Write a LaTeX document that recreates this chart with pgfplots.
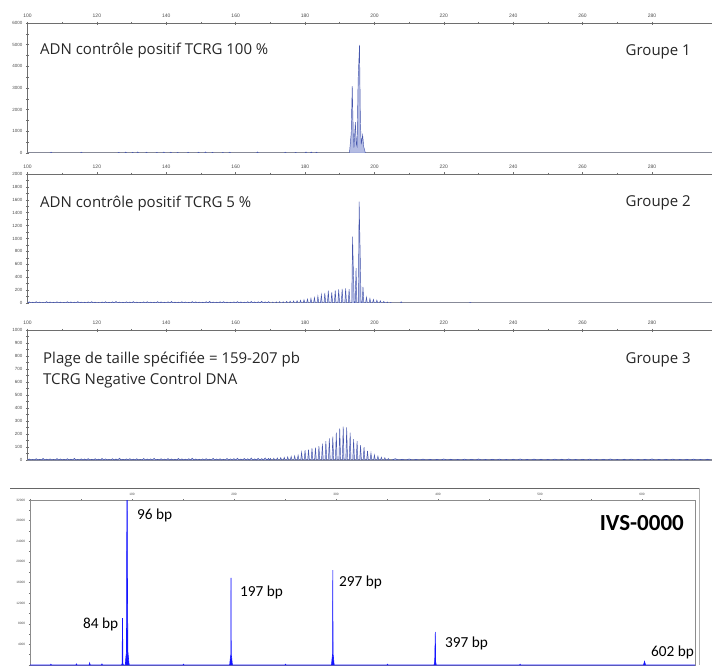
\documentclass[border=0pt]{standalone}
\usepackage{pgfplots}
\pgfplotsset{compat=1.18}
\usepackage{fontspec}
\setmainfont{Open Sans}
\newfontfamily\calib{Carlito}
\newfontfamily\arial{Liberation Sans}
\definecolor{tdark}{HTML}{4555AC}
\definecolor{tlight}{HTML}{B4BCE3}
\definecolor{bdark}{HTML}{1414FF}
\definecolor{blight}{HTML}{8C8CFF}
\definecolor{axgray}{HTML}{6E6E6E}
\begin{document}
\begin{tikzpicture}[x=1pt,y=1pt]
\useasboundingbox (0,0) rectangle (712,665);
\pgfplotsset{
  panel/.style={
    scale only axis, width=684.5pt, height=130pt,
    xmin=100, xmax=297.3, ymin=0,
    axis x line*=top, axis y line*=left,
    axis line style={-, draw=axgray, line width=0.6pt},
    xtick={100,120,...,280}, minor x tick num=1,
    tick align=center,
    major tick length=3pt, minor tick length=2.5pt,
    every tick/.style={draw=axgray, line width=0.5pt},
    xticklabel style={font=\arial\fontsize{5}{5}\selectfont, text=black!70},
    yticklabel style={font=\arial\fontsize{4.5}{5}\selectfont, text=black!70},
    scaled y ticks=false,
    /pgf/number format/assume math mode=true,
    /pgf/number format/1000 sep={},
  },
  trace/.style={draw=tdark, fill=tlight, line width=0.45pt},
}
% ---------------- Panel 1 ----------------
\begin{axis}[panel, at={(27.5pt,512pt)}, anchor=south west, height=130pt,
  ymax=6000, ytick={0,1000,...,6000}, minor y tick num=1]
\draw[black!45, line width=1.2pt] (rel axis cs:0,0) -- (rel axis cs:1,0);
\addplot[trace] coordinates {
(100,0)(106.5,0)(106.8,40)(107.1,0)(115.2,0)(115.5,35)(115.8,0)
(126,0)(126.3,30)(126.6,0)(128,0)(128.3,45)(128.6,0)(130,0)(130.3,35)(130.6,0)
(131.5,0)(131.8,50)(132.1,0)(134,0)(134.3,40)(134.6,0)(137,0)(137.3,30)(137.6,0)
(139,0)(139.3,45)(139.6,0)(141,0)(141.3,40)(141.6,0)(143,0)(143.3,30)(143.6,0)
(146,0)(146.3,35)(146.6,0)(149,0)(149.3,40)(149.6,0)(151,0)(151.3,50)(151.6,0)
(153,0)(153.3,35)(153.6,0)(156,0)(156.3,30)(156.6,0)(158,0)(158.3,40)(158.6,0)
(166,0)(166.3,45)(166.6,0)(174,0)(174.3,35)(174.6,0)(177,0)(177.3,30)(177.6,0)
(180,0)(180.3,50)(180.6,0)(181.5,0)(181.8,45)(182.1,0)(183,0)(183.3,40)(183.6,0)
(192.8,0)(193.3,900)(193.6,3090)(193.9,900)(194.1,250)(194.5,1430)(194.8,400)
(195.0,300)(195.3,3400)(195.7,4985)(195.95,1500)(196.2,400)(196.6,830)(196.9,300)(197.4,0)
(297.3,0)
} \closedcycle;
\end{axis}
% ---------------- Panel 2 ----------------
\begin{axis}[panel, at={(27.5pt,362pt)}, anchor=south west, height=129pt,
  ymax=2000, ytick={0,200,...,2000}, minor y tick num=1]
\draw[black!45, line width=1.2pt] (rel axis cs:0,0) -- (rel axis cs:1,0);
\addplot[trace] coordinates {
(100,0)(100.5,18)(101,0)(101.5,12)(102,0)(102.5,20)(103,0)(103.5,15)(104,0)(104.5,10)
(105,0)(105.5,22)(106,0)(106.5,16)(107,0)(107.5,12)(108,0)(108.5,19)(109,0)(109.5,14)
(110,0)(110.5,11)(111,0)(111.5,20)(112,0)(112.5,17)(113,0)(113.5,13)(114,0)(114.5,22)
(115,0)(115.5,15)(116,0)(116.5,12)(117,0)(117.5,18)(118,0)(118.5,21)(119,0)(119.5,14)
(120,0)(120.5,10)(121,0)(121.5,16)(122,0)(122.5,20)(123,0)(123.5,13)(124,0)(124.5,18)
(125,0)(125.5,24)(126,0)(126.5,15)(127,0)(127.5,12)(128,0)(128.5,19)(129,0)(129.5,16)
(130,0)(130.5,22)(131,0)(131.5,14)(132,0)(132.5,11)(133,0)(133.5,18)(134,0)(134.5,20)
(135,0)(135.5,15)(136,0)(136.5,13)(137,0)(137.5,21)(138,0)(138.5,17)(139,0)(139.5,12)
(140,0)(140.5,19)(141,0)(141.5,23)(142,0)(142.5,15)(143,0)(143.5,14)(144,0)(144.5,20)
(145,0)(145.5,16)(146,0)(146.5,12)(147,0)(147.5,22)(148,0)(148.5,18)(149,0)(149.5,15)
(150,0)(150.5,13)(151,0)(151.5,20)(152,0)(152.5,24)(153,0)(153.5,16)(154,0)(154.5,14)
(155,0)(155.5,19)(156,0)(156.5,21)(157,0)(157.5,15)(158,0)(158.5,12)(159,0)(159.5,18)
(160,0)(160.5,22)(161,0)(161.5,17)(162,0)(162.5,14)(163,0)(163.5,20)(164,0)(164.5,23)
(165,0)(165.5,16)(166,0)(166.5,19)(167,0)(167.5,25)(168,0)(168.5,18)(169,0)(169.5,21)
(170,0)
(170.45,0)(170.7,15)(170.95,0)(171.45,0)(171.7,18)(171.95,0)(172.45,0)(172.7,22)(172.95,0)
(173.45,0)(173.7,20)(173.95,0)(174.45,0)(174.7,26)(174.95,0)(175.45,0)(175.7,28)(175.95,0)
(176.45,0)(176.7,32)(176.95,0)(177.45,0)(177.7,35)(177.95,0)(178.45,0)(178.7,42)(178.95,0)
(179.45,0)(179.7,50)(179.95,0)(180.45,0)(180.7,60)(180.95,0)(181.45,0)(181.7,72)(181.95,0)
(182.45,0)(182.7,85)(182.95,0)(183.45,0)(183.7,108)(183.95,0)(184.45,0)(184.7,130)(184.95,0)
(185.45,0)(185.7,155)(185.95,0)(186.45,0)(186.7,190)(186.95,0)(187.45,0)(187.7,165)(187.95,0)
(188.45,0)(188.7,195)(188.95,0)(189.45,0)(189.7,210)(189.95,0)(190.45,0)(190.7,220)(190.95,0)
(191.45,0)(191.7,228)(191.95,0)(192.45,0)(192.7,215)(192.95,0)
(193.45,0)(193.7,1030)(193.95,450)(194.2,0)(194.45,0)(194.7,540)(194.95,0)
(195.35,0)(195.6,1570)(195.9,750)(196.15,0)
(196.45,0)(196.7,250)(196.95,0)(197.45,0)(197.7,90)(197.95,0)(198.45,0)(198.7,70)(198.95,0)
(199.45,0)(199.7,55)(199.95,0)(200.45,0)(200.7,45)(200.95,0)(201.45,0)(201.7,35)(201.95,0)
(202.45,0)(202.7,25)(202.95,0)(203.45,0)(203.7,15)(203.95,0)(204.45,0)(204.7,10)(204.95,0)
(207.45,0)(207.7,20)(207.95,0)(227.3,0)(227.6,10)(227.9,0)
(297.3,0)
} \closedcycle;
\end{axis}
% ---------------- Panel 3 ----------------
\begin{axis}[panel, at={(27.5pt,205pt)}, anchor=south west, height=130pt,
  ymax=1000, ytick={0,100,...,1000}, minor y tick num=1]
\draw[black!45, line width=1.2pt] (rel axis cs:0,0) -- (rel axis cs:1,0);
\addplot[trace] coordinates {
(100,0)(100.5,8)(101,0)(101.5,5)(102,0)(102.5,10)(103,0)(103.5,6)(104,0)(104.5,12)
(105,0)(105.5,7)(106,0)(106.5,9)(107,0)(107.5,5)(108,0)(108.5,11)(109,0)(109.5,8)
(110,0)(110.5,6)(111,0)(111.5,10)(112,0)(112.5,7)(113,0)(113.5,13)(114,0)(114.5,5)
(115,0)(115.5,9)(116,0)(116.5,8)(117,0)(117.5,11)(118,0)(118.5,6)(119,0)(119.5,10)
(120,0)(120.5,7)(121,0)(121.5,12)(122,0)(122.5,9)(123,0)(123.5,5)(124,0)(124.5,10)
(125,0)(125.5,8)(126,0)(126.5,14)(127,0)(127.5,6)(128,0)(128.5,9)(129,0)(129.5,11)
(130,0)(130.5,7)(131,0)(131.5,10)(132,0)(132.5,5)(133,0)(133.5,12)(134,0)(134.5,8)
(135,0)(135.5,9)(136,0)(136.5,13)(137,0)(137.5,6)(138,0)(138.5,10)(139,0)(139.5,7)
(140,0)(140.5,11)(141,0)(141.5,8)(142,0)(142.5,6)(143,0)(143.5,12)(144,0)(144.5,9)
(145,0)(145.5,7)(146,0)(146.5,10)(147,0)(147.5,14)(148,0)(148.5,8)(149,0)(149.5,6)
(150,0)(150.5,9)(151,0)(151.5,11)(152,0)(152.5,7)(153,0)(153.5,13)(154,0)(154.5,8)
(155,0)(155.5,10)(156,0)(156.5,6)(157,0)(157.5,12)(158,0)(158.5,9)(159,0)(159.5,11)
(160,0)(160.5,14)(161,0)(161.5,8)(162,0)(162.5,12)(163,0)(163.5,10)(164,0)(164.5,15)
(165,0)(165.5,9)(166,0)(166.5,13)(167,0)(167.5,11)(168,0)(168.5,16)(169,0)(169.5,12)
(169.75,0)(170,12)(170.25,0)(170.75,0)(171,14)(171.25,0)(171.75,0)(172,16)(172.25,0)
(172.75,0)(173,18)(173.25,0)(173.75,0)(174,20)(174.25,0)(174.75,0)(175,24)(175.25,0)
(175.75,0)(176,28)(176.25,0)(176.75,0)(177,32)(177.25,0)(177.75,0)(178,38)(178.25,0)
(178.75,0)(179,60)(179.25,0)(179.75,0)(180,75)(180.25,0)(180.75,0)(181,80)(181.25,0)
(181.75,0)(182,90)(182.25,0)(182.75,0)(183,95)(183.25,0)(183.75,0)(184,107)(184.25,0)
(184.75,0)(185,125)(185.25,0)(185.75,0)(186,146)(186.25,0)(186.75,0)(187,167)(187.25,0)
(187.75,0)(188,180)(188.25,0)(188.75,0)(189,210)(189.25,0)(189.75,0)(190,243)(190.25,0)
(190.75,0)(191,257)(191.25,0)(191.75,0)(192,250)(192.25,0)(192.75,0)(193,210)(193.25,0)
(193.75,0)(194,160)(194.25,0)(194.75,0)(195,146)(195.25,0)(195.75,0)(196,115)(196.25,0)
(196.75,0)(197,98)(197.25,0)(197.75,0)(198,70)(198.25,0)(198.75,0)(199,55)(199.25,0)
(199.75,0)(200,40)(200.25,0)(200.75,0)(201,30)(201.25,0)(201.75,0)(202,22)(202.25,0)
(202.75,0)(203,18)(203.25,0)(203.75,0)(204,12)(204.25,0)
(205,0)(206,10)(207,0)(208,6)(209,0)(210,8)(211,0)(212,5)(213,0)(214,7)(215,0)(216,6)
(217,0)(218,5)(219,0)(220,8)(221,0)(222,6)(223,0)(224,5)(225,0)(226,7)(227,0)(228,6)
(229,0)(230,8)(231,0)(232,5)(233,0)(234,6)(235,0)(236,7)(237,0)(238,5)(239,0)(240,6)
(241,0)(242,8)(243,0)(244,5)(245,0)(246,7)(247,0)(248,6)(249,0)(250,5)(251,0)(252,7)
(253,0)(254,6)(255,0)(256,8)(257,0)(258,5)(259,0)(260,6)(261,0)(262,7)(263,0)(264,5)
(265,0)(266,6)(267,0)(268,8)(269,0)(270,5)(271,0)(272,6)(273,0)(274,7)(275,0)(276,5)
(277,0)(278,6)(279,0)(280,8)(281,0)(282,5)(283,0)(284,6)(285,0)(286,7)(287,0)(288,5)
(289,0)(290,6)(291,0)(292,7)(293,0)(294,5)(295,0)(296,6)(297,0)(297.3,0)
} \closedcycle;
\end{axis}
% ---------------- Panel 4 ----------------
\begin{axis}[scale only axis, width=665pt, height=165pt, at={(30pt,0pt)}, anchor=south west,
  xmin=0, xmax=652, ymin=0, ymax=32000,
  axis line style={draw=black!45, line width=0.5pt},
  xtick={0,100,...,600}, xticklabels={,100,200,300,400,500,600}, minor x tick num=1,
  ytick={0,4000,...,32000}, yticklabels={,4000,8000,12000,16000,20000,24000,28000,32000},
  minor y tick num=1,
  xtick pos=upper, xticklabel pos=upper, ytick pos=left,
  tick align=center, major tick length=2.5pt, minor tick length=2pt,
  every tick/.style={draw=black!55, line width=0.4pt},
  xticklabel style={font=\arial\fontsize{3.2}{3.2}\selectfont, text=black!70},
  yticklabel style={font=\arial\fontsize{3.2}{3.2}\selectfont, text=black!70},
  scaled y ticks=false,
  /pgf/number format/assume math mode=true,
  /pgf/number format/1000 sep={},
]
\addplot[draw=bdark, fill=bdark, line width=0.6pt] coordinates {
(0,0)(20,0)(20.5,150)(21,0)(45,0)(45.5,200)(46,0)(58,0)(58.5,400)(59,0)(70,0)(70.5,200)(71,0)
(89.8,0)(90.3,300)(90.7,9100)(91.1,300)(91.6,0)
(93.5,0)(94.0,1500)(94.6,2500)(95.0,33000)(95.3,33000)(95.6,13000)(96.0,2500)(96.6,1200)(97.2,0)
(150,0)(150.5,150)(151,0)
(195.8,0)(196.4,1300)(196.9,2000)(197.1,16900)(197.3,2000)(197.8,1300)(198.4,0)
(250,0)(250.5,150)(251,0)
(295.6,0)(296.2,1300)(296.7,2200)(296.9,18400)(297.1,2200)(297.6,1300)(298.2,0)
(350,0)(350.5,150)(351,0)
(396.2,0)(396.8,600)(397.4,6400)(397.7,600)(398.3,0)
(480,0)(480.5,150)(481,0)
(601.5,0)(602.5,700)(603.5,0)
(652,0)
} \closedcycle;
\end{axis}
% outer frame
\draw[black!60, line width=0.8pt] (10,177) -- (699,177);
\draw[black!30, line width=0.6pt] (699,177) -- (699,0);
% texts
\begin{scope}[every node/.style={inner sep=0pt, text=black!85, font=\fontsize{15}{16}\selectfont}]
\node[anchor=base west] at (40,610) {ADN contrôle positif TCRG 100 \%};
\node[anchor=base east] at (691,609.5) {Groupe 1};
\node[anchor=base west] at (40,457.7) {ADN contrôle positif TCRG 5 \%};
\node[anchor=base east] at (691,458) {Groupe 2};
\node[anchor=base west] at (43,301.7) {Plage de taille spécifiée = 159-207 pb};
\node[anchor=base west] at (43,280.7) {TCRG Negative Control DNA};
\node[anchor=base east] at (691,302) {Groupe 3};
\end{scope}
\begin{scope}[every node/.style={inner sep=0pt, text=black, font=\calib\fontsize{15.3}{16}\selectfont}]
\node[anchor=base west] at (137,146) {96 bp};
\node[anchor=base west] at (83,36.7) {84 bp};
\node[anchor=base west] at (240,69) {197 bp};
\node[anchor=base west] at (339,78.3) {297 bp};
\node[anchor=base west] at (445,17.7) {397 bp};
\node[anchor=base west] at (651,8.3) {602 bp};
\node[anchor=base east, font=\calib\bfseries\fontsize{23}{24}\selectfont] at (684,135) {IVS-0000};
\end{scope}
\end{tikzpicture}
\end{document}
